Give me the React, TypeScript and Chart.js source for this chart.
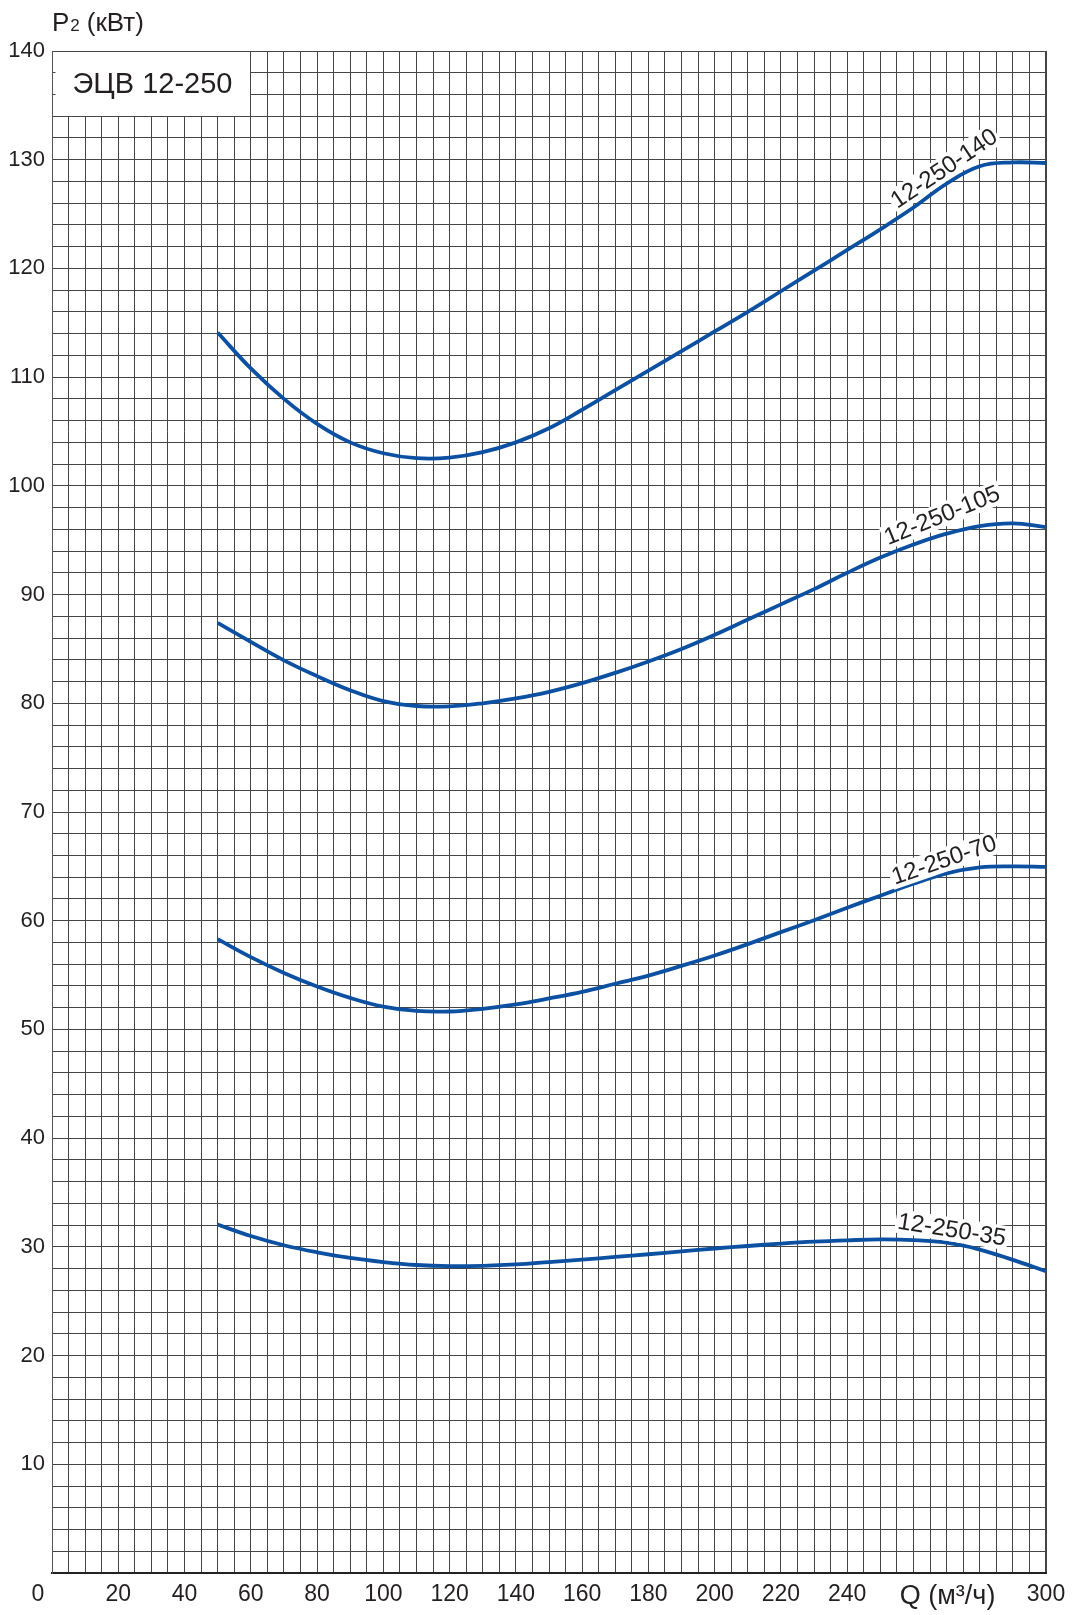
import React, { useEffect, useRef } from 'react';
import { Chart, registerables } from 'chart.js';

Chart.register(...registerables);

// ---- data (Q in m³/h, P2 in kW) ----
const flowQ = [50, 60, 70, 80, 90, 100, 110, 120, 130, 140, 150, 160, 170, 180, 190, 200, 210, 220, 230, 240, 250, 260, 270, 280, 290, 300];
const power140 = [114.1, 110.8, 108.0, 105.7, 104.0, 103.0, 102.55, 102.6, 103.1, 104.0, 105.3, 107.0, 108.8, 110.6, 112.4, 114.2, 116.0, 117.9, 119.8, 121.7, 123.6, 125.6, 127.8, 129.4, 129.75, 129.7];
const power105 = [87.4, 85.65, 83.95, 82.5, 81.2, 80.2, 79.75, 79.72, 80.0, 80.45, 81.05, 81.85, 82.8, 83.85, 85.0, 86.3, 87.7, 89.1, 90.5, 92.0, 93.4, 94.6, 95.6, 96.3, 96.55, 96.2];
const power70 = [58.3, 56.65, 55.2, 53.95, 52.9, 52.1, 51.7, 51.65, 51.9, 52.3, 52.85, 53.45, 54.2, 54.95, 55.85, 56.8, 57.85, 58.95, 60.05, 61.2, 62.3, 63.4, 64.35, 64.9, 65.0, 64.95];
const power35 = [32.05, 31.0, 30.15, 29.5, 28.98, 28.6, 28.33, 28.22, 28.25, 28.38, 28.6, 28.83, 29.07, 29.32, 29.58, 29.85, 30.08, 30.3, 30.48, 30.6, 30.68, 30.62, 30.38, 29.75, 28.8, 27.75];
const seriesNames = ['12-250-140', '12-250-105', '12-250-70', '12-250-35'];

const xLabelValues = [20, 40, 60, 80, 100, 120, 140, 160, 180, 200, 220, 240, 300];
const yLabelValues = [10, 20, 30, 40, 50, 60, 70, 80, 90, 100, 110, 120, 130, 140];
const chartTitle = 'ЭЦВ 12-250';
const xAxisTitle = 'Q (м³/ч)';
const yAxisTitleMain = 'P';
const yAxisTitleSub = '2';
const yAxisTitleUnit = '(кВт)';
const originLabel = '0';

// ---- layout / style (not data) ----
const FONT = '"Liberation Sans", Arial, Helvetica, sans-serif';
const TEXT = '#231f20';
const CURVE = '#0c50a1';
const GRID = '#454545';
const X_MIN = 0, X_MAX = 300, X_STEP = 5;
const Y_MIN = 0, Y_MAX = 140, Y_STEP = 2;
// label anchors in data coords + rotation (deg)
const curveLabelAnchors = [
  { q: 269.2, p: 129.2, angle: -34 },
  { q: 268.6, p: 97.3, angle: -22 },
  { q: 269.2, p: 65.6, angle: -19 },
  { q: 271.6, p: 31.6, angle: 9 },
];
const titleBox = { q0: 0, q1: 60, p0: 134, p1: 140 };

const align = (p: number) => Math.round(p - 0.5) + 0.5;

const overlayPlugin = {
  id: 'overlay',
  beforeDatasetsDraw(chart: any) {
    const { ctx, scales } = chart;
    const x = scales.x, y = scales.y;
    const l = align(x.getPixelForValue(titleBox.q0));
    const r = align(x.getPixelForValue(titleBox.q1));
    const t = align(y.getPixelForValue(titleBox.p1));
    const b = align(y.getPixelForValue(titleBox.p0));
    ctx.save();
    ctx.fillStyle = '#ffffff';
    ctx.fillRect(l + 0.5, t + 0.5, r - l - 1, b - t - 1);
    ctx.strokeStyle = GRID;
    ctx.lineWidth = 1;
    for (let v = titleBox.p0 + Y_STEP; v < titleBox.p1; v += Y_STEP) {
      const py = align(y.getPixelForValue(v));
      ctx.beginPath();
      ctx.moveTo(l, py);
      ctx.lineTo(l + 3, py);
      ctx.stroke();
    }
    ctx.fillStyle = TEXT;
    ctx.font = `29px ${FONT}`;
    ctx.textAlign = 'center';
    ctx.textBaseline = 'middle';
    ctx.fillText(chartTitle, (l + r) / 2 + 1, (t + b) / 2 + 1);
    ctx.restore();
  },
  afterDatasetsDraw(chart: any) {
    const { ctx, scales, chartArea } = chart;
    const x = scales.x, y = scales.y;
    ctx.save();
    // curve labels
    ctx.font = `24px ${FONT}`;
    ctx.textAlign = 'center';
    ctx.textBaseline = 'middle';
    seriesNames.forEach((name, i) => {
      const a = curveLabelAnchors[i];
      const px = x.getPixelForValue(a.q);
      const py = y.getPixelForValue(a.p);
      ctx.save();
      ctx.translate(px, py);
      ctx.rotate((a.angle * Math.PI) / 180);
      const w = ctx.measureText(name).width;
      ctx.fillStyle = '#ffffff';
      ctx.fillRect(-w / 2 - 2, -12, w + 4, 24);
      ctx.fillStyle = TEXT;
      ctx.fillText(name, 0, 1);
      ctx.restore();
    });
    // axis titles
    ctx.fillStyle = TEXT;
    ctx.textBaseline = 'alphabetic';
    ctx.textAlign = 'left';
    ctx.font = `26px ${FONT}`;
    const tx = chartArea.left;
    ctx.fillText(yAxisTitleMain, tx, 31);
    const pw = ctx.measureText(yAxisTitleMain).width;
    ctx.font = `17px ${FONT}`;
    ctx.fillText(yAxisTitleSub, tx + pw + 1, 31);
    const sw = ctx.measureText(yAxisTitleSub).width;
    ctx.font = `26px ${FONT}`;
    ctx.fillText(yAxisTitleUnit, tx + pw + 1 + sw + 7, 31);

    ctx.textAlign = 'center';
    ctx.textBaseline = 'middle';
    ctx.font = `27px ${FONT}`;
    ctx.fillText(xAxisTitle, x.getPixelForValue(270.3), chartArea.bottom + 24);
    ctx.font = `23px ${FONT}`;
    ctx.fillText(originLabel, chartArea.left - 14, chartArea.bottom + 22);
    ctx.restore();
  },
};

function makeTicks(min: number, max: number, step: number) {
  const out: { value: number }[] = [];
  for (let v = min; v <= max + 1e-9; v += step) out.push({ value: Math.round(v * 1000) / 1000 });
  return out;
}

export default function App() {
  const canvasRef = useRef<HTMLCanvasElement | null>(null);

  useEffect(() => {
    const canvas = canvasRef.current;
    if (!canvas) return;
    const series = [power140, power105, power70, power35];
    const chart = new Chart(canvas, {
      type: 'line',
      data: {
        datasets: series.map((vals, i) => ({
          label: seriesNames[i],
          data: flowQ.map((q, j) => ({ x: q, y: vals[j] })),
          borderColor: CURVE,
          borderWidth: 3.8,
          pointRadius: 0,
          fill: false,
          tension: 0.4,
          borderCapStyle: 'butt',
        })),
      },
      options: {
        responsive: false,
        animation: false,
        devicePixelRatio: 1,
        layout: { padding: { top: 51, right: 28, left: 0, bottom: 0 } },
        plugins: {
          legend: { display: false },
          tooltip: { enabled: false },
          title: { display: false },
        },
        scales: {
          x: {
            type: 'linear',
            min: X_MIN,
            max: X_MAX,
            afterFit: (s: any) => { s.height = 42; },
            afterBuildTicks: (s: any) => { s.ticks = makeTicks(X_MIN, X_MAX, X_STEP); },
            ticks: {
              stepSize: X_STEP,
              autoSkip: false,
              maxRotation: 0,
              minRotation: 0,
              padding: 8,
              color: TEXT,
              font: { size: 23, family: FONT },
              callback: (v: any) => (xLabelValues.includes(Number(v)) ? String(v) : ''),
            },
            grid: {
              color: GRID,
              lineWidth: (c: any) => (c.tick && c.tick.value === X_MAX ? 2 : 1),
              drawTicks: false,
            },
            border: { display: true, color: '#222', width: 2 },
          },
          y: {
            type: 'linear',
            min: Y_MIN,
            max: Y_MAX,
            afterFit: (s: any) => { s.width = 52; },
            afterBuildTicks: (s: any) => { s.ticks = makeTicks(Y_MIN, Y_MAX, Y_STEP); },
            ticks: {
              stepSize: Y_STEP,
              autoSkip: false,
              padding: 7,
              color: TEXT,
              font: { size: 22, family: FONT },
              callback: (v: any) => (yLabelValues.includes(Number(v)) ? String(v) : ''),
            },
            grid: {
              color: GRID,
              lineWidth: 1,
              drawTicks: false,
            },
            border: { display: true, color: '#555', width: 1 },
          },
        },
      },
      plugins: [overlayPlugin],
    } as any);
    return () => chart.destroy();
  }, []);

  return (
    <div style={{ position: 'absolute', left: 0, top: 0, width: 1074, height: 1615, background: '#fff' }}>
      <canvas ref={canvasRef} width={1074} height={1615} style={{ display: 'block', width: 1074, height: 1615 }} />
    </div>
  );
}
